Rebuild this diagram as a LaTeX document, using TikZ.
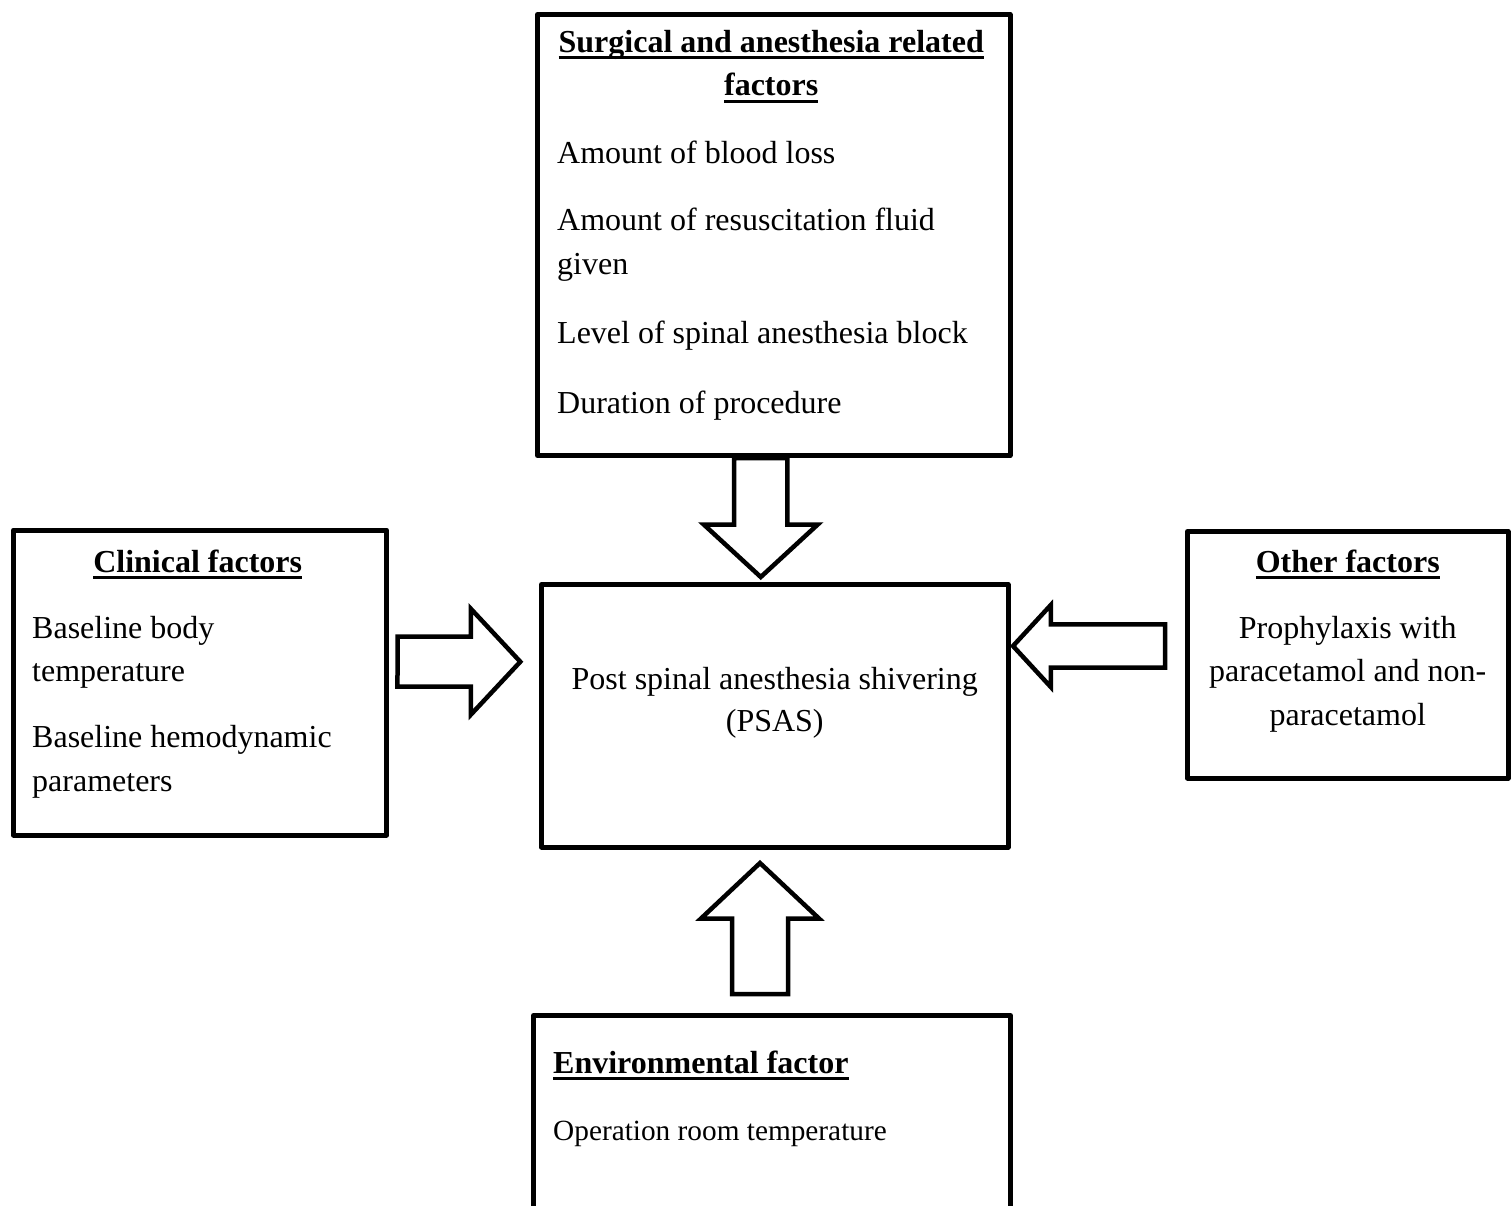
\documentclass[tikz,border=0pt]{standalone}
\usepackage{fontspec}
\setmainfont{Liberation Serif}
\usepackage{tikz}
\usetikzlibrary{positioning, calc}

\newsavebox{\headbox}
\newcommand{\factorhead}[1]{\sbox{\headbox}{\textbf{#1}}\rlap{\rule[-7pt]{\wd\headbox}{3pt}}\usebox{\headbox}}

% hollow block arrow: start, tip, shaft half width, head half width, head length
\newcommand{\fatarrow}[5]{%
  \coordinate (fa-s) at (#1);
  \coordinate (fa-t) at (#2);
  \coordinate (fa-h) at ($(fa-t)!#5!(fa-s)$);
  \draw[fat arrow] ($(fa-s)!#3!90:(fa-t)$) -- ($(fa-h)!#3!90:(fa-t)$)
    -- ($(fa-h)!#4!90:(fa-t)$) -- (fa-t) -- ($(fa-h)!#4!-90:(fa-t)$)
    -- ($(fa-h)!#3!-90:(fa-t)$) -- ($(fa-s)!#3!-90:(fa-t)$) -- cycle;
}

\begin{document}
\begin{tikzpicture}[
    x=1pt, y=-1pt,
    box/.style={rectangle, draw, line width=5pt, line join=round, inner sep=0pt, anchor=north west},
    txt/.style={inner sep=0pt, align=flush left, font=\fontsize{32}{43.5}\selectfont},
    fat arrow/.style={draw, line width=4.5pt, line join=miter}
]
    \useasboundingbox (0,0) rectangle (1512,1205);

    % Main blocks
    \node[box, minimum width=472.5, minimum height=441] (surg) at (535,12) {};
    \node[box, minimum width=466.5, minimum height=262.5] (psas) at (539,582) {};
    \node[box, minimum width=373, minimum height=305] (clin) at (11,527.5) {};
    \node[box, minimum width=320.5, minimum height=246.5] (other) at (1185,529) {};
    \node[box, minimum width=477, minimum height=230] (env) at (531,1013) {};

    % Texts
    \node[txt, text width=428, anchor=base west] (surgtxt) at ($(surg.north west)+(22,40)$) {%
        \makebox[\linewidth]{\factorhead{Surgical and anesthesia related}}\\
        \makebox[\linewidth]{\factorhead{factors}}\\[24.5pt]
        Amount of blood loss\\[23.5pt]
        Amount of resuscitation fluid\\
        given\\[26pt]
        Level of spinal anesthesia block\\[26.5pt]
        Duration of procedure};
    \node[txt, text width=440, align=flush center, anchor=base] (psastxt) at ($(psas.center)+(0,-26.5)$) {%
        Post spinal anesthesia shivering\\[-1.5pt]
        (PSAS)};
    \node[txt, text width=331, anchor=base west] (clintxt) at ($(clin.north west)+(21,44.5)$) {%
        \makebox[\linewidth]{\factorhead{Clinical factors}}\\[22.5pt]
        Baseline body\\
        temperature\\[22.5pt]
        Baseline hemodynamic\\
        parameters};
    \node[txt, text width=300, align=flush center, anchor=base] (othertxt) at ($(other.north)+(0,43)$) {%
        \factorhead{Other factors}\\[22.5pt]
        Prophylaxis with\\
        paracetamol and non-\\
        paracetamol};
    \node[txt, text width=440, anchor=base west] (envtxt) at ($(env.north west)+(22,60)$) {%
        \factorhead{Environmental factor}\\[23.5pt]
        {\fontsize{29.3}{40}\selectfont Operation room temperature}};

    % Arrows
    \fatarrow{$(surg.south)+(-13,0)$}{$(psas.north)+(-14,-5)$}{26.7pt}{57pt}{52.5pt}
    \fatarrow{$(clin.east)+(8.5,-20.8)$}{$(psas.west)+(-18.7,-54)$}{25pt}{53pt}{49.5pt}
    \fatarrow{$(other.west)+(-20,-8.75)$}{$(psas.east)+(2.5,-69.75)$}{21.7pt}{41pt}{37.8pt}
    \fatarrow{$(env.north)+(-12,-19)$}{$(psas.south)+(-14.75,13.5)$}{28pt}{59pt}{55.5pt}

\end{tikzpicture}
\end{document}
